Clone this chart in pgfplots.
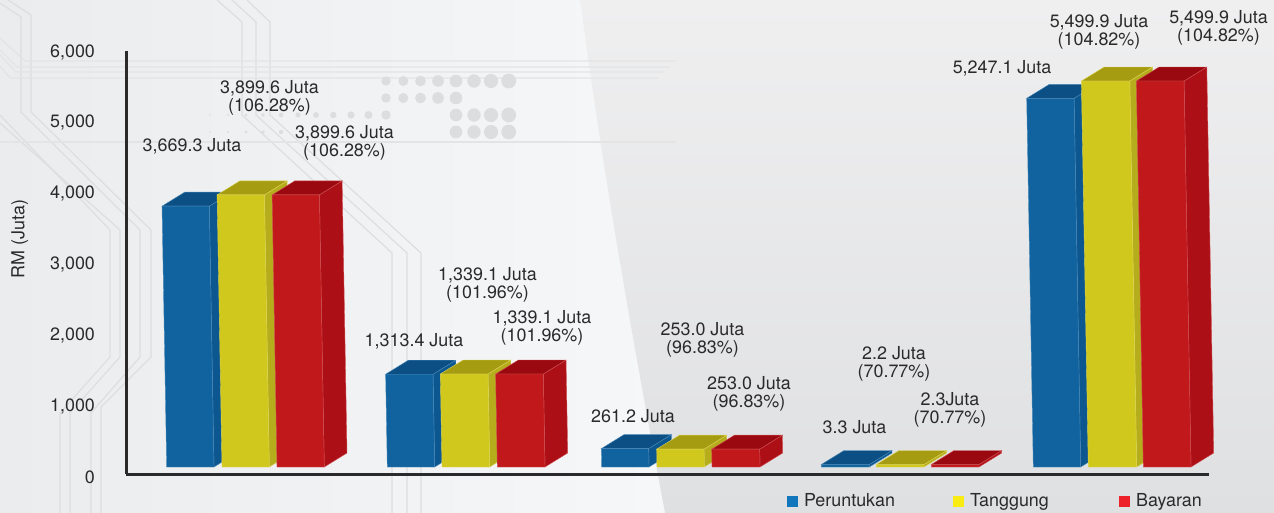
\documentclass[border=0pt]{standalone}
\usepackage{fontspec}
\setmainfont{TeX Gyre Heros}
\usepackage{pgfplots}
\pgfplotsset{compat=1.18}
\definecolor{txt}{HTML}{2B2A2B}
\definecolor{cl}{HTML}{DDDEDF}
\definecolor{clh}{HTML}{E3E4E5}
\definecolor{dotc}{HTML}{DCDDDE}
\definecolor{bgLa}{HTML}{EBECED}\definecolor{bgLb}{HTML}{F6F7F8}
\definecolor{bgRa}{HTML}{EFEFF0}\definecolor{bgRb}{HTML}{DFE0E2}
\definecolor{bF}{HTML}{10639F}\definecolor{bS}{HTML}{0D5791}\definecolor{bT}{HTML}{0B4F84}
\definecolor{yF}{HTML}{D1C81D}\definecolor{yS}{HTML}{B5AD1B}\definecolor{yT}{HTML}{A69C12}
\definecolor{rF}{HTML}{C1181C}\definecolor{rS}{HTML}{AD0F16}\definecolor{rT}{HTML}{9A090F}
\definecolor{lb}{HTML}{1276BC}\definecolor{ly}{HTML}{F8EC13}\definecolor{lr}{HTML}{ED2129}
% one bar: left x, right x (pixels of the x scale), value, colour prefix
\newcommand\threedbar[4]{%
  \pgfmathsetmacro\bv{max(#3,35)}%
  \pgfmathsetmacro\bl{0.00127*\bv}%
  \pgfmathsetmacro\xla{#1-\bl}\pgfmathsetmacro\xra{#2-\bl}%
  \pgfmathsetmacro\xlb{\xla+22.7}\pgfmathsetmacro\xrb{\xra+22.7}%
  \pgfmathsetmacro\xrz{#2+22.7}%
  \pgfmathsetmacro\bt{\bv+198.6}%
  \addplot[fill=#4S,draw=#4F!75!white,line width=.2pt,forget plot] coordinates {(#2,0)(\xrz,198.6)(\xrb,\bt)(\xra,\bv)} -- cycle;
  \addplot[fill=#4T,draw=#4F!75!white,line width=.2pt,forget plot] coordinates {(\xla,\bv)(\xra,\bv)(\xrb,\bt)(\xlb,\bt)} -- cycle;
  \addplot[fill=#4F,draw=#4F!75!white,line width=.2pt,forget plot] coordinates {(#1,0)(#2,0)(\xra,\bv)(\xla,\bv)} -- cycle;
}
\begin{document}
\begin{tikzpicture}
\useasboundingbox (0,-256.5pt) rectangle (637pt,0);
\begin{scope}[x=0.5pt,y=-0.5pt]
  % background
  \shade[left color=bgLa,right color=bgLb] (0,0) -- (580,0) .. controls (600,150) and (625,300) .. (665,513) -- (0,513) -- cycle;
  \begin{scope}
    \clip (580,0) .. controls (600,150) and (625,300) .. (665,513) -- (1274,513) -- (1274,0) -- cycle;
    \shade[top color=bgRa,bottom color=bgRb] (560,0) rectangle (1274,513);
  \end{scope}
  % circuit lines
  \begin{scope}[cl,line width=.6pt]
    \draw (0,3)--(21,17)--(21,112)--(140,230)--(140,357)--(91,413)--(91,513);
    \draw (8,0)--(31,15)--(31,112)--(151,230)--(151,357)--(101,407)--(101,513);
    \draw (0,115)--(110,230)--(110,357)--(60,413)--(60,513);
    \draw (0,123)--(120,230)--(120,357)--(70,413)--(70,513);
    \draw (217,0)--(242,22)--(242,115)--(392,253)--(392,513);
    \draw (232,0)--(256,22)--(256,115)--(407,253)--(407,513);
    \draw (247,0)--(270,22)--(270,115)--(421,253)--(421,513);
  \end{scope}
  \begin{scope}[clh,line width=.6pt]
    \draw (0,38)--(25,61)--(676,61);
    \draw (0,50)--(17,67)--(670,67);
    \draw (0,55)--(16,72)--(664,72);
    \draw (0,66)--(10,78)--(658,78);
    \draw (0,142)--(676,142);
  \end{scope}
  % dots
  \begin{scope}[dotc]
    \fill (386,81) circle (4.7); \fill (403.3,81) circle (5); \fill (420.5,81) circle (5.4); \fill (438,81) circle (5.8);
    \fill (456,81) circle (6.3); \fill (474,81) circle (6.7); \fill (491,81) circle (7.1); \fill (508.7,81) circle (7.4);
    \fill (386,98) circle (4.7); \fill (403.3,98) circle (5); \fill (420.5,98) circle (5.4); \fill (438,98) circle (5.8); \fill (456,98) circle (6.3);
    \fill (456,115) circle (6.3); \fill (474,115) circle (6.7); \fill (491,115) circle (7.1); \fill (508.7,115) circle (7.4);
    \fill (456,132) circle (6.3); \fill (474,132) circle (6.7); \fill (491,132) circle (7.1); \fill (508.7,132) circle (7.4);
    \fill (386,115) circle (4.7); \fill (368.5,115) circle (4); \fill (351,115) circle (3.6); \fill (333.3,115) circle (3.2);
    \fill (316,115) circle (2.9); \fill (298,115) circle (2.6); \fill (281,115) circle (2.3); \fill (263,115) circle (1.9);
    \fill (246,115) circle (1.6); \fill (228,115) circle (1.2); \fill (210,115) circle (.9);
    \fill (281,132) circle (2.2); \fill (263,132) circle (1.9); \fill (246,132) circle (1.6); \fill (228,132) circle (1.2); \fill (210,132) circle (.9);
  \end{scope}
\end{scope}
% axis carrying the tick scale printed on the left
\begin{axis}[
  at={(63pt,-238.5pt)},anchor=south west,scale only axis,
  width=541.5pt,height=212.5pt,
  xmin=0,xmax=1,ymin=0,ymax=6000,
  hide x axis,axis y line*=left,y axis line style={draw=none},
  ytick={0,1000,2000,3000,4000,5000,6000},major tick length=0pt,
  /pgf/number format/fixed,/pgf/number format/1000 sep={,},/pgf/number format/assume math mode=true,
  tick label style={font=\fontsize{8.95}{9}\selectfont,text=txt},
  yticklabel style={xshift=-12pt},
  every axis y label/.style={at={(axis description cs:-0.098,0.56)},rotate=90,anchor=center},
  ylabel={\fontsize{8.95}{9}\selectfont\color{txt}RM (Juta)},
]
\addplot[draw=none,forget plot] coordinates {(0,0)(1,6000)};
\end{axis}
% axis with the bars (heights as drawn in the picture)
\begin{axis}[
  at={(63pt,-237pt)},anchor=south west,scale only axis,
  width=541.5pt,height=211.5pt,
  xmin=126,xmax=1209,ymin=-99.3,ymax=5900.7,
  axis x line*=bottom,axis y line*=left,
  x axis line style={line width=1.5pt,color=txt,-},
  y axis line style={line width=1.5pt,color=txt,-},
  xtick=\empty,ytick=\empty,clip=false,
  legend columns=3,
  legend image code/.code={\fill[#1,draw=none] (0pt,-2.75pt) rectangle (5.5pt,2.75pt);},
  legend style={at={(axis description cs:0.6104,-0.064)},anchor=west,draw=none,fill=none,
    inner sep=0pt,outer sep=0pt,
    font=\fontsize{8.95}{9}\selectfont\color{txt},
    nodes={inner sep=0pt,text width=74pt,align=left},
    /tikz/every odd column/.append style={column sep=3pt},
    /tikz/every even column/.append style={column sep=.5pt}},
]
\threedbar{166.7}{214}{3700}{b}
\threedbar{222}{269.3}{3860}{y}
\threedbar{277}{324.3}{3860}{r}
\threedbar{387.3}{434.7}{1316}{b}
\threedbar{442}{489.7}{1319}{y}
\threedbar{497.3}{545}{1319}{r}
\threedbar{601.7}{649}{261.2}{b}
\threedbar{657}{704.3}{253.0}{y}
\threedbar{712}{760}{253.0}{r}
\threedbar{821.3}{869.3}{3.3}{b}
\threedbar{876.3}{924}{2.2}{y}
\threedbar{931.3}{979}{2.3}{r}
\threedbar{1033.3}{1080.7}{5230}{b}
\threedbar{1088.3}{1136.7}{5475}{y}
\threedbar{1143.3}{1191}{5475}{r}
\addlegendimage{fill=lb}\addlegendentry{Peruntukan}
\addlegendimage{fill=ly}\addlegendentry{Tanggung}
\addlegendimage{fill=lr}\addlegendentry{Bayaran}
\end{axis}
% value labels
\begin{scope}[x=0.5pt,y=-0.5pt,every node/.style={font=\fontsize{8.95}{9}\selectfont,text=txt,align=center,inner sep=0pt,anchor=center}]
  \node at (192,146) {3,669.3 Juta};
  \node at (269.5,98) {3,899.6 Juta\\(106.28\%)};
  \node at (344.5,143) {3,899.6 Juta\\(106.28\%)};
  \node at (414,341) {1,313.4 Juta};
  \node at (487.5,285) {1,339.1 Juta\\(101.96\%)};
  \node at (542,328) {1,339.1 Juta\\(101.96\%)};
  \node at (633,416.5) {261.2 Juta};
  \node at (702.5,340) {253.0 Juta\\(96.83\%)};
  \node at (749,394) {253.0 Juta\\(96.83\%)};
  \node at (854.5,427.5) {3.3 Juta};
  \node at (894,364) {2.2 Juta\\(70.77\%)};
  \node at (950,410) {2.3Juta\\(70.77\%)};
  \node at (1002,68) {5,247.1 Juta};
  \node at (1099,32) {5,499.9 Juta\\(104.82\%)};
  \node at (1218.5,28) {5,499.9 Juta\\(104.82\%)};
\end{scope}
\end{tikzpicture}
\end{document}
